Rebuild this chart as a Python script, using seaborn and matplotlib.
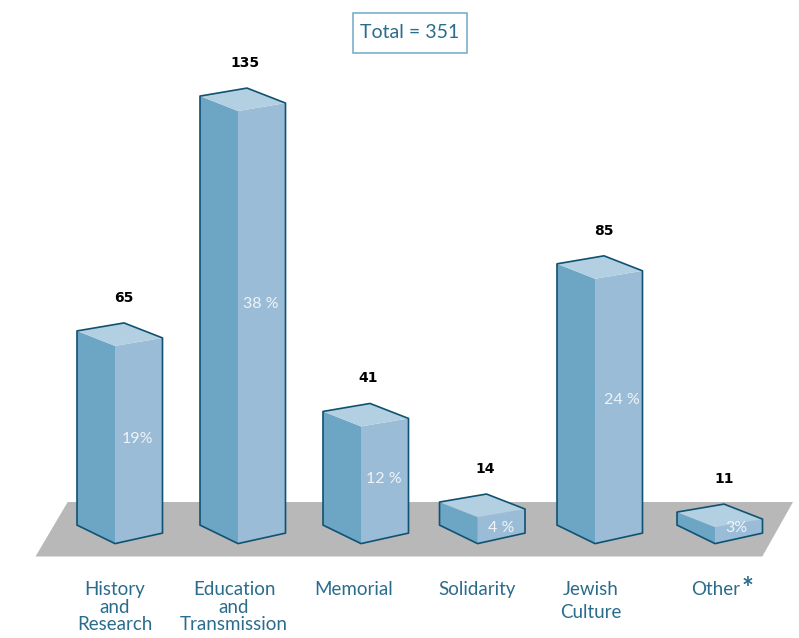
import matplotlib
matplotlib.use("Agg")
import matplotlib.pyplot as plt
import pandas as pd
import seaborn as sns
from matplotlib.patches import Polygon, Rectangle
from matplotlib.transforms import Affine2D

# Projects per theme
categories = ["History\nand\nResearch", "Education\nand\nTransmission", "Memorial",
              "Solidarity", "Jewish\nCulture", "Other"]
counts = [65, 135, 41, 14, 85, 11]
shares = ["19%", "38 %", "12 %", "4 %", "24 %", "3%"]
total_label = "Total = 351"

# Drawing constants (pixel metrics of the projected scale)
WIDTH, HEIGHT = 799, 638
PX_PER_SLOT, SLOT0_PX = 120.0, 115.0
PX_PER_UNIT, ZERO_PX = 3.355, 564.0
FLOOR_VALUE = 6.08

LEFT_DARK, RIGHT_MID, TOP_LIGHT = "#6da5c4", "#9abcd6", "#b3cfe2"
OUTLINE, TEXT_BLUE, FLOOR_GREY = "#0f5272", "#2a6c8c", "#b8b8b8"

# Small adjustments per bar and per label
bar_nudge = [0.0, 0.025, 0.05, 0.021, 0.0, 0.0]
count_nudge_px = [0, -2, -2, -1, 0, 0]
share_nudge_px = [(-1, 4), (-1, -2), (-1, 0), (0, -1), (3, 2), (-2, -7)]
name_x_px = [115, 234, 354, 477, 591, 716]
name_spacing = [1.05, 1.05, 1.0, 1.0, 1.4, 1.0]


def dx(px):
    return px / PX_PER_SLOT


def dv(px):
    return px / PX_PER_UNIT


def x_at(px):
    return (px - SLOT0_PX) / PX_PER_SLOT


def v_at(py):
    return (ZERO_PX - py) / PX_PER_UNIT


sns.set_theme(style="white")
plt.rcParams["font.family"] = ["Lato", "DejaVu Sans"]

fig = plt.figure(figsize=(WIDTH / 100, HEIGHT / 100), dpi=100)
ax = fig.add_axes([0, 0, 1, 1])

frame = pd.DataFrame({"theme": categories, "count": counts})
sns.barplot(data=frame, x="theme", y="count", color=RIGHT_MID, saturation=1,
            width=dx(47.5), linewidth=0, ax=ax)

ax.set_xlim(x_at(0), x_at(WIDTH))
ax.set_ylim(v_at(HEIGHT), v_at(0))
ax.axis("off")

# Ground plane
ax.add_patch(Polygon([(x_at(67.7), v_at(502)), (x_at(793), v_at(502)),
                      (x_at(762.3), v_at(556.5)), (x_at(35.5), v_at(556.5))],
                     closed=True, facecolor=FLOOR_GREY, edgecolor="none", zorder=1))

for i, bar in enumerate(ax.patches[:len(counts)]):
    value = bar.get_height()
    mid = i + bar_nudge[i]
    width = bar.get_width()
    right = mid + width
    left = mid - dx(38)

    # The front-right face is the bar itself, sheared into perspective
    bar.set_x(mid)
    shear = Affine2D.from_values(1, dv(8) / width, 0, 1, 0, -mid * dv(8) / width)
    bar.set_transform(shear + ax.transData)
    bar.set_zorder(3)
    bar.set_clip_path(Polygon([(mid, FLOOR_VALUE - dv(1)),
                               (right, FLOOR_VALUE + dv(10.5)),
                               (right, value + dv(20)), (mid, value + dv(20))],
                              closed=True, transform=ax.transData))

    left_top = (left, value + dv(15))
    mid_top = (mid, value)
    right_top = (right, value + dv(8))
    apex = (mid + dx(9), value + dv(23))
    left_base = (left, FLOOR_VALUE + dv(18.5))
    mid_base = (mid, FLOOR_VALUE)
    right_base = (right, FLOOR_VALUE + dv(10.5))

    ax.add_patch(Polygon([left_top, mid_top, mid_base, left_base], closed=True,
                         facecolor=LEFT_DARK, edgecolor="none", zorder=3))
    ax.add_patch(Polygon([left_top, apex, right_top, mid_top], closed=True,
                         facecolor=TOP_LIGHT, edgecolor="none", zorder=4))
    ax.add_patch(Polygon([left_top, apex, right_top, right_base, mid_base, left_base],
                         closed=True, facecolor="none", edgecolor=OUTLINE,
                         linewidth=1.2, joinstyle="round", zorder=5))

    # Count above the bar
    ax.annotate(str(counts[i]), xy=apex,
                xytext=(count_nudge_px[i] * 0.72, 25 * 0.72), textcoords="offset points",
                ha="center", va="center", fontsize=10, fontweight="bold",
                family="DejaVu Sans", color="black", zorder=6)

    # Share on the front-right face
    height_px = (value - FLOOR_VALUE) * PX_PER_UNIT
    nudge_x, nudge_y = share_nudge_px[i]
    ax.annotate(shares[i], xy=(mid, value),
                xytext=((23.5 + nudge_x) * 0.72, -(0.45 * height_px + nudge_y) * 0.72),
                textcoords="offset points", ha="center", va="center",
                fontsize=11.5, color="#eef4f8", zorder=6)

# Category names under the plane
for i, name in enumerate(categories):
    ax.text(x_at(name_x_px[i]), v_at(581), name, ha="center", va="top", fontsize=13.5,
            color=TEXT_BLUE, linespacing=name_spacing[i], zorder=6)
ax.text(x_at(747), v_at(589), "*", ha="center", va="center", fontsize=20, fontweight="bold",
        color=TEXT_BLUE, zorder=6)

# Total box
ax.add_patch(Rectangle((x_at(353), v_at(52.5)), dx(114), dv(40), facecolor="white",
                       edgecolor="#6fa8c8", linewidth=1.1, zorder=5))
ax.text(x_at(410), v_at(32), total_label, ha="center", va="center", fontsize=14,
        color=TEXT_BLUE, zorder=6)

fig.savefig("out.png", dpi=100, facecolor="white")
